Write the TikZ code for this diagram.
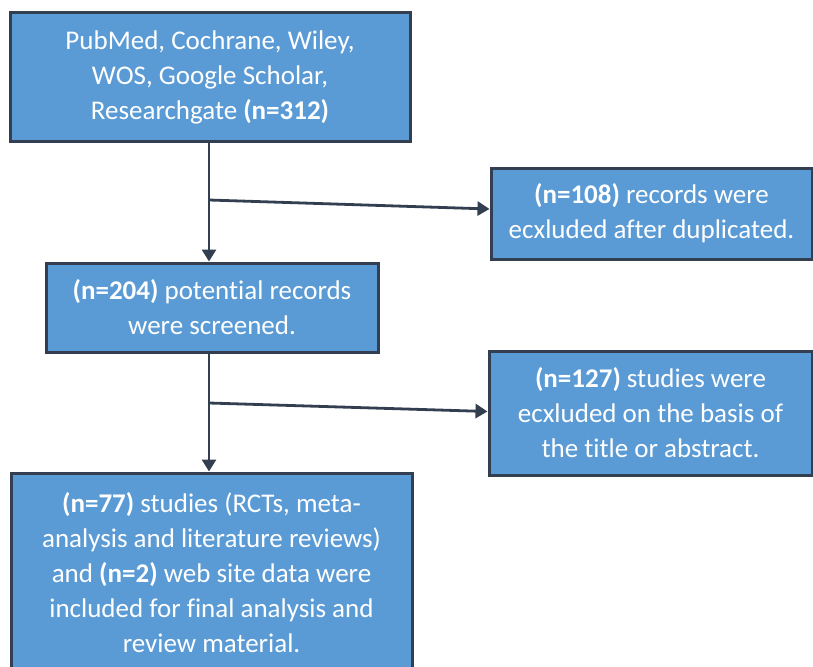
\documentclass[tikz,border=0pt]{standalone}
\usepackage{fontspec}
\setmainfont{Carlito}[Ligatures=NoCommon]
\usetikzlibrary{arrows.meta}
\definecolor{boxfill}{HTML}{5B9BD5}
\definecolor{boxline}{HTML}{333F50}
\tikzset{
  flowbox/.style={draw=boxline, fill=boxfill, line width=3pt, text=white,
    align=center, inner sep=0pt, font=\fontsize{27}{35}\selectfont},
  conn/.style={draw=boxline, line width=2.8pt},
  arr/.style={conn, -{Triangle[width=14pt,length=12pt]}}
}
\begin{document}
\begin{tikzpicture}[x=1pt,y=-1pt]
\useasboundingbox (0,0) rectangle (813,666);
\clip (0,0) rectangle (813,666);
\node[flowbox, minimum width=400pt, minimum height=128pt] (b1) at (210,77)
  {PubMed, Cochrane, Wiley,\\WOS, Google Scholar,\\Researchgate \textbf{(n=312)}};
\node[flowbox, minimum width=332pt, minimum height=89pt] (b2) at (212,307.5)
  {\textbf{(n=204)} potential records\\were screened.};
\node[flowbox, minimum width=321pt, minimum height=91pt] (b3) at (651.5,213.5)
  {\textbf{(n=108)} records were\\ecxluded after duplicated.};
\node[flowbox, minimum width=323pt, minimum height=124pt] (b4) at (650.5,413)
  {\textbf{(n=127)} studies were\\ecxluded on the basis of\\the title or abstract.};
\node[flowbox, minimum width=401pt, minimum height=200pt] (b5) at (211.5,573)
  {\textbf{(n=77)} studies (RCTs, meta-\\analysis and literature reviews)\\and \textbf{(n=2)} web site data were\\included for final analysis and\\review material.};
\coordinate (j1) at (209,200);
\coordinate (j2) at (209,403);
\draw[arr] (b1.south -| j1) -- (b2.north -| j1);
\draw[arr] (j1) -- ([yshift=4.5pt]b3.west);
\draw[arr] (b2.south -| j2) -- (b5.north -| j2);
\draw[arr] (j2) -- ([yshift=1.5pt]b4.west);
\end{tikzpicture}
\end{document}
